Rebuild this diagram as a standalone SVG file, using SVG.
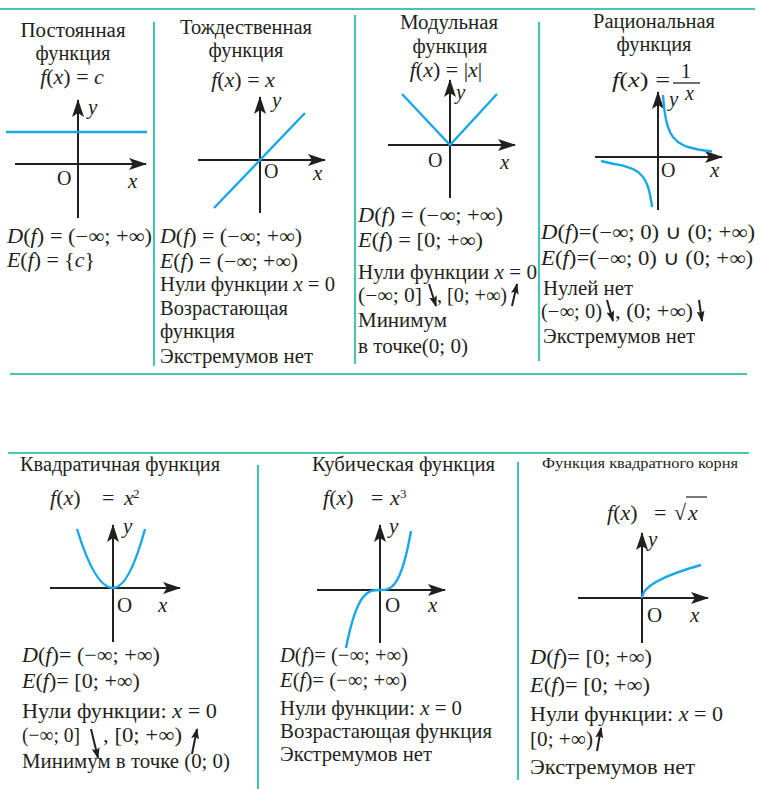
<svg xmlns="http://www.w3.org/2000/svg" width="762" height="789" viewBox="0 0 762 789">
<style>
.t{font-family:"Liberation Serif","Times New Roman",serif;font-size:20px;fill:#231f20}
.b{font-size:21px}
.f{font-size:22px}
.s{font-size:14px}
.sup{font-size:13px}
.m{text-anchor:middle}
.i{font-style:italic}
.sep{stroke:#4cc4ad;stroke-width:2.2;fill:none}
.ax{stroke:#231f20;stroke-width:2;fill:none}
.cv{stroke:#1aa7e8;stroke-width:2.4;fill:none}
.ar{stroke:#231f20;stroke-width:2;fill:none}
</style>
<defs>
<marker id="ah" viewBox="0 0 18 12" refX="17" refY="6" markerWidth="18" markerHeight="12" markerUnits="userSpaceOnUse" orient="auto">
<path d="M0,0 L18,6 L0,12 L4,6 Z" fill="#231f20"/>
</marker>
<marker id="sh" viewBox="0 0 11 8" refX="10" refY="4" markerWidth="11" markerHeight="8" markerUnits="userSpaceOnUse" orient="auto">
<path d="M0,0 L11,4 L0,8 L2,4 Z" fill="#231f20"/>
</marker>
</defs>

<g id="frame">
<line class="sep" x1="0" y1="9" x2="755" y2="9"/>
<line class="sep" x1="10" y1="374" x2="747" y2="374"/>
<line class="sep" x1="154" y1="22" x2="154" y2="366"/>
<line class="sep" x1="355" y1="15" x2="355" y2="364"/>
<line class="sep" x1="539" y1="22" x2="539" y2="361"/>
<line class="sep" x1="8" y1="453" x2="749" y2="453"/>
<line class="sep" x1="258" y1="465" x2="258" y2="789"/>
<line class="sep" x1="518" y1="462" x2="518" y2="780"/>
</g>

<g id="connectors">
<line class="ax" x1="78" y1="218" x2="78" y2="100" marker-end="url(#ah)"/>
<line class="ax" x1="15" y1="164" x2="146" y2="164" marker-end="url(#ah)"/>
<line class="ax" x1="260" y1="213" x2="260" y2="97" marker-end="url(#ah)"/>
<line class="ax" x1="198" y1="160" x2="325" y2="160" marker-end="url(#ah)"/>
<line class="ax" x1="450" y1="198" x2="450" y2="80" marker-end="url(#ah)"/>
<line class="ax" x1="388" y1="145" x2="515" y2="145" marker-end="url(#ah)"/>
<line class="ax" x1="658" y1="210" x2="658" y2="92" marker-end="url(#ah)"/>
<line class="ax" x1="595" y1="157" x2="722" y2="157" marker-end="url(#ah)"/>
<line class="ax" x1="113" y1="642" x2="113" y2="525" marker-end="url(#ah)"/>
<line class="ax" x1="50" y1="588" x2="180" y2="588" marker-end="url(#ah)"/>
<line class="ax" x1="380" y1="643" x2="380" y2="525" marker-end="url(#ah)"/>
<line class="ax" x1="317" y1="590" x2="445" y2="590" marker-end="url(#ah)"/>
<line class="ax" x1="642" y1="643" x2="642" y2="533" marker-end="url(#ah)"/>
<line class="ax" x1="578" y1="598" x2="708" y2="598" marker-end="url(#ah)"/>
<line class="cv" x1="6" y1="132" x2="147" y2="132"/>
<line class="cv" x1="214" y1="208" x2="305" y2="113"/>
<polyline class="cv" points="402,94 450,145 497,94"/>
<polyline class="cv" points="663,95 664,107 665,114.1 666,119.5 668,127 670,132 673,137 678,142 683,145 688,147 698,149.5 712,151.5"/>
<polyline class="cv" points="601,161 613,163.7 623,165.6 633,169 638,172 643,177 646,182 648,187 650,194.5 651.5,203 652,207"/>
<path class="cv" d="M77,529 Q95,588 113,588 Q129,588 145,529"/>
<path class="cv" d="M346,648 C357.3,590 368.7,590 380,590 C390.3,590 400.7,590 411,531"/>
<path class="cv" d="M642,598 Q642,581.5 701,565"/>
<line class="ar" x1="429" y1="284" x2="436" y2="306" marker-end="url(#sh)"/>
<line class="ar" x1="512" y1="306" x2="517" y2="284" marker-end="url(#sh)"/>
<line class="ar" x1="607" y1="300" x2="613" y2="321" marker-end="url(#sh)"/>
<line class="ar" x1="699" y1="300" x2="702" y2="321" marker-end="url(#sh)"/>
<line class="ar" x1="91" y1="729" x2="98" y2="758" marker-end="url(#sh)"/>
<line class="ar" x1="192" y1="754" x2="197" y2="729" marker-end="url(#sh)"/>
<line class="ar" x1="597" y1="751" x2="601" y2="728" marker-end="url(#sh)"/>
</g>

<g id="node-const">
<text class="t m" x="73" y="37" textLength="105" lengthAdjust="spacingAndGlyphs">Постоянная</text>
<text class="t m" x="73" y="60" textLength="75" lengthAdjust="spacingAndGlyphs">функция</text>
<text class="t f m" x="72" y="84"><tspan class="i">f</tspan>(<tspan class="i">x</tspan>) = <tspan class="i">c</tspan></text>
<text class="t b i" x="88" y="114">y</text>
<text class="t" x="57" y="185">O</text>
<text class="t b i" x="128" y="188">x</text>
<text class="t" x="7" y="243" textLength="145" lengthAdjust="spacingAndGlyphs"><tspan class="i">D</tspan>(<tspan class="i">f</tspan>) = (−∞; +∞)</text>
<text class="t" x="7" y="267" textLength="88" lengthAdjust="spacingAndGlyphs"><tspan class="i">E</tspan>(<tspan class="i">f</tspan>) = {<tspan class="i">c</tspan>}</text>
</g>

<g id="node-identity">
<text class="t m" x="246" y="34" textLength="132" lengthAdjust="spacingAndGlyphs">Тождественная</text>
<text class="t m" x="246" y="57" textLength="75" lengthAdjust="spacingAndGlyphs">функция</text>
<text class="t f m" x="243" y="87"><tspan class="i">f</tspan>(<tspan class="i">x</tspan>) = <tspan class="i">x</tspan></text>
<text class="t b i" x="272" y="107">y</text>
<text class="t" x="264" y="178">O</text>
<text class="t b i" x="313" y="180">x</text>
<text class="t" x="160" y="243" textLength="142" lengthAdjust="spacingAndGlyphs"><tspan class="i">D</tspan>(<tspan class="i">f</tspan>) = (−∞; +∞)</text>
<text class="t" x="160" y="268" textLength="138" lengthAdjust="spacingAndGlyphs"><tspan class="i">E</tspan>(<tspan class="i">f</tspan>) = (−∞; +∞)</text>
<text class="t" x="160" y="291" textLength="175" lengthAdjust="spacingAndGlyphs">Нули функции <tspan class="i">x</tspan> = 0</text>
<text class="t" x="160" y="315" textLength="128" lengthAdjust="spacingAndGlyphs">Возрастающая</text>
<text class="t" x="160" y="338" textLength="75" lengthAdjust="spacingAndGlyphs">функция</text>
<text class="t" x="160" y="363" textLength="153" lengthAdjust="spacingAndGlyphs">Экстремумов нет</text>
</g>

<g id="node-abs">
<text class="t m" x="449" y="29" textLength="98" lengthAdjust="spacingAndGlyphs">Модульная</text>
<text class="t m" x="450" y="53" textLength="75" lengthAdjust="spacingAndGlyphs">функция</text>
<text class="t f m" x="446" y="77"><tspan class="i">f</tspan>(<tspan class="i">x</tspan>) = |<tspan class="i">x</tspan>|</text>
<text class="t b i" x="456" y="99">y</text>
<text class="t" x="428" y="167">O</text>
<text class="t b i" x="500" y="169">x</text>
<text class="t" x="358" y="222" textLength="145" lengthAdjust="spacingAndGlyphs"><tspan class="i">D</tspan>(<tspan class="i">f</tspan>) = (−∞; +∞)</text>
<text class="t" x="358" y="247" textLength="125" lengthAdjust="spacingAndGlyphs"><tspan class="i">E</tspan>(<tspan class="i">f</tspan>) = [0; +∞)</text>
<text class="t" x="358" y="279" textLength="179" lengthAdjust="spacingAndGlyphs">Нули функции <tspan class="i">x</tspan> = 0</text>
<text class="t" x="358" y="302" textLength="64" lengthAdjust="spacingAndGlyphs">(−∞; 0]</text>
<text class="t" x="437" y="302" textLength="70" lengthAdjust="spacingAndGlyphs">, [0; +∞)</text>
<text class="t" x="358" y="327" textLength="89" lengthAdjust="spacingAndGlyphs">Минимум</text>
<text class="t" x="358" y="353" textLength="110" lengthAdjust="spacingAndGlyphs">в точке(0; 0)</text>
</g>

<g id="node-rational">
<text class="t m" x="654" y="28" textLength="122" lengthAdjust="spacingAndGlyphs">Рациональная</text>
<text class="t m" x="654" y="51" textLength="75" lengthAdjust="spacingAndGlyphs">функция</text>
<text class="t f" x="612" y="87" textLength="58" lengthAdjust="spacingAndGlyphs"><tspan class="i">f</tspan>(<tspan class="i">x</tspan>) =</text>
<text class="t m" x="686" y="77.5">1</text>
<line x1="673" y1="83" x2="700" y2="83" stroke="#231f20" stroke-width="1.3"/>
<text class="t i" x="685" y="100">x</text>
<text class="t b i" x="669" y="106">y</text>
<text class="t" x="661" y="177">O</text>
<text class="t b i" x="710" y="177">x</text>
<text class="t" x="541" y="239" textLength="214" lengthAdjust="spacingAndGlyphs"><tspan class="i">D</tspan>(<tspan class="i">f</tspan>)=(−∞; 0) ∪ (0; +∞)</text>
<text class="t" x="541" y="265" textLength="212" lengthAdjust="spacingAndGlyphs"><tspan class="i">E</tspan>(<tspan class="i">f</tspan>)=(−∞; 0) ∪ (0; +∞)</text>
<text class="t" x="543" y="295" textLength="90" lengthAdjust="spacingAndGlyphs">Нулей нет</text>
<text class="t" x="541" y="318" textLength="61" lengthAdjust="spacingAndGlyphs">(−∞; 0)</text>
<text class="t" x="615" y="318" textLength="78" lengthAdjust="spacingAndGlyphs">, (0; +∞)</text>
<text class="t" x="543" y="343" textLength="152" lengthAdjust="spacingAndGlyphs">Экстремумов нет</text>
</g>

<g id="node-quadratic">
<text class="t" x="20" y="471" textLength="200" lengthAdjust="spacingAndGlyphs">Квадратичная функция</text>
<text class="t f" x="50" y="505"><tspan class="i">f</tspan>(<tspan class="i">x</tspan>)</text>
<text class="t f" x="102" y="505">=</text>
<text class="t f i" x="124" y="505">x</text>
<text class="t sup" x="133" y="498">2</text>
<text class="t b i" x="123" y="533">y</text>
<text class="t b" x="117" y="612">O</text>
<text class="t b i" x="158" y="612">x</text>
<text class="t b" x="22" y="662" textLength="138" lengthAdjust="spacingAndGlyphs"><tspan class="i">D</tspan>(<tspan class="i">f</tspan>)= (−∞; +∞)</text>
<text class="t b" x="22" y="688" textLength="118" lengthAdjust="spacingAndGlyphs"><tspan class="i">E</tspan>(<tspan class="i">f</tspan>)= [0; +∞)</text>
<text class="t b" x="22" y="718" textLength="195" lengthAdjust="spacingAndGlyphs">Нули функции: <tspan class="i">x</tspan> = 0</text>
<text class="t b" x="22" y="742" textLength="58" lengthAdjust="spacingAndGlyphs">(−∞; 0]</text>
<text class="t b" x="103" y="742" textLength="79" lengthAdjust="spacingAndGlyphs">, [0; +∞)</text>
<text class="t b" x="22" y="768" textLength="208" lengthAdjust="spacingAndGlyphs">Минимум в точке (0; 0)</text>
</g>

<g id="node-cubic">
<text class="t" x="312" y="471" textLength="183" lengthAdjust="spacingAndGlyphs">Кубическая функция</text>
<text class="t f" x="323" y="505"><tspan class="i">f</tspan>(<tspan class="i">x</tspan>)</text>
<text class="t f" x="371" y="505">=</text>
<text class="t f i" x="390" y="505">x</text>
<text class="t sup" x="400" y="498">3</text>
<text class="t b i" x="389" y="533">y</text>
<text class="t b" x="385" y="612">O</text>
<text class="t b i" x="428" y="612">x</text>
<text class="t b" x="280" y="662" textLength="128" lengthAdjust="spacingAndGlyphs"><tspan class="i">D</tspan>(<tspan class="i">f</tspan>)= (−∞; +∞)</text>
<text class="t b" x="280" y="687" textLength="127" lengthAdjust="spacingAndGlyphs"><tspan class="i">E</tspan>(<tspan class="i">f</tspan>)= (−∞; +∞)</text>
<text class="t b" x="280" y="715" textLength="182" lengthAdjust="spacingAndGlyphs">Нули функции: <tspan class="i">x</tspan> = 0</text>
<text class="t b" x="280" y="738" textLength="212" lengthAdjust="spacingAndGlyphs">Возрастающая функция</text>
<text class="t b" x="280" y="761" textLength="152" lengthAdjust="spacingAndGlyphs">Экстремумов нет</text>
</g>

<g id="node-sqrt">
<text class="t s" x="542" y="468" textLength="196" lengthAdjust="spacingAndGlyphs">Функция квадратного корня</text>
<text class="t f" x="607" y="520"><tspan class="i">f</tspan>(<tspan class="i">x</tspan>)</text>
<text class="t f" x="654" y="520">=</text>
<text class="t f" x="674" y="520">√</text>
<text class="t f i" x="688" y="520">x</text>
<line x1="686" y1="497" x2="707" y2="497" stroke="#231f20" stroke-width="1.2"/>
<text class="t b i" x="648" y="546">y</text>
<text class="t b" x="647" y="622">O</text>
<text class="t b i" x="690" y="622">x</text>
<text class="t b" x="530" y="664" textLength="122" lengthAdjust="spacingAndGlyphs"><tspan class="i">D</tspan>(<tspan class="i">f</tspan>)= [0; +∞)</text>
<text class="t b" x="530" y="692" textLength="120" lengthAdjust="spacingAndGlyphs"><tspan class="i">E</tspan>(<tspan class="i">f</tspan>)= [0; +∞)</text>
<text class="t b" x="530" y="721" textLength="193" lengthAdjust="spacingAndGlyphs">Нули функции: <tspan class="i">x</tspan> = 0</text>
<text class="t b" x="530" y="746" textLength="63" lengthAdjust="spacingAndGlyphs">[0; +∞)</text>
<text class="t b" x="530" y="774" textLength="165" lengthAdjust="spacingAndGlyphs">Экстремумов нет</text>
</g>
</svg>
